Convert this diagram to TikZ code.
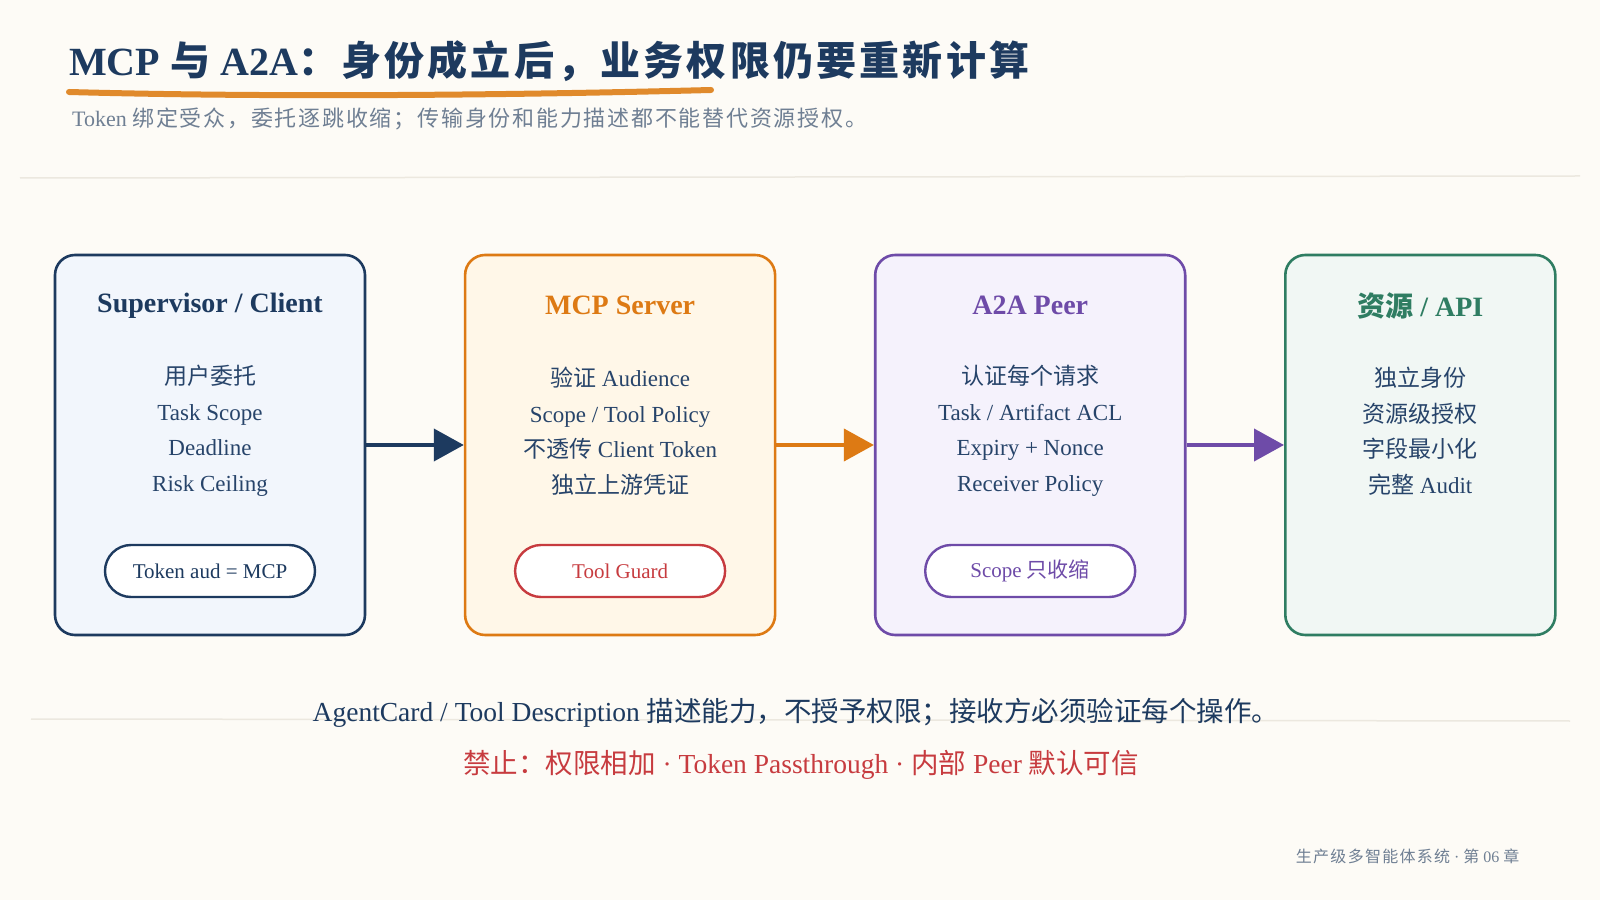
\documentclass[tikz,border=0pt]{standalone}
\usepackage{fontspec}
\setmainfont{Liberation Serif}
\newfontfamily\zhfont{Noto Sans CJK SC}
\newfontfamily\zhwidefont{Noto Sans CJK SC}[LetterSpace=8]
\newcommand{\zh}[1]{{\zhfont #1}}
\newcommand{\zhw}[1]{{\zhwidefont #1}}
\usetikzlibrary{positioning, arrows.meta}
\definecolor{paper}{HTML}{FDFBF6}
\definecolor{cNavy}{HTML}{1D3A5F}
\definecolor{cInk}{HTML}{27446A}
\definecolor{cAmber}{HTML}{DD7A14}
\definecolor{cMark}{HTML}{E08A2C}
\definecolor{cViolet}{HTML}{6E4BA8}
\definecolor{cGreen}{HTML}{2F7D62}
\definecolor{cRed}{HTML}{C73B3F}
\definecolor{cGrey}{HTML}{6F7F93}
\definecolor{cRule}{HTML}{ECE8DF}
\definecolor{fNavy}{HTML}{F2F6FC}
\definecolor{fAmber}{HTML}{FFF7E8}
\definecolor{fViolet}{HTML}{F5F2FC}
\definecolor{fGreen}{HTML}{F1F7F4}
\tikzset{
  node distance=97.5pt,
  panel/.style={draw, rounded corners=20pt, line width=2.6pt,
    minimum width=310pt, minimum height=380pt},
  heading/.style={font=\fontsize{28}{32}\selectfont\bfseries},
  items/.style={align=center, text=cInk, font=\fontsize{23}{35.5}\selectfont},
  pill/.style={draw, fill=white, line width=2.4pt, rounded corners=26pt,
    minimum width=210pt, minimum height=52pt, font=\fontsize{21}{24}\selectfont},
  flow/.style={line width=4pt, -{Triangle[length=30pt,width=32pt]}},
}
\begin{document}
\begin{tikzpicture}[x=1pt, y=1pt]
  \fill[paper] (0,0) rectangle (1600,900);
  \useasboundingbox (0,0) rectangle (1600,900);

  % title
  \node[anchor=base west, inner sep=0, text=cNavy, font=\fontsize{40}{44}\selectfont\bfseries]
    (title) at (69,824) {MCP \zhw{与} A2A\zhw{：身份成立后，业务权限仍要重新计算}};
  \draw[cMark, line width=6pt, line cap=round]
    (69,808) .. controls (250,803) and (480,804) .. (711,810);
  \node[anchor=base west, inner sep=0, text=cGrey, font=\fontsize{22}{26}\selectfont]
    (subtitle) at (72,773) {Token \zhw{绑定受众，委托逐跳收缩；传输身份和能力描述都不能替代资源授权。}};
  \draw[cRule, line width=1.5pt] (20,722) -- (1580,724);

  % panels
  \node[panel, draw=cNavy, fill=fNavy] (client) at (210,455) {};
  \node[panel, draw=cAmber, fill=fAmber, right=of client] (server) {};
  \node[panel, draw=cViolet, fill=fViolet, right=of server] (peer) {};
  \node[panel, draw=cGreen, fill=fGreen, minimum width=270pt, right=of peer] (api) {};

  % headings
  \node[heading, text=cNavy] (clienthead) at ([yshift=-52pt]client.north) {Supervisor / Client};
  \node[heading, text=cAmber] (serverhead) at ([yshift=-52pt]server.north) {MCP Server};
  \node[heading, text=cViolet] (peerhead) at ([yshift=-52pt]peer.north) {A2A Peer};
  \node[heading, text=cGreen] (apihead) at ([yshift=-52pt]api.north) {\zh{资源} / API};

  % items
  \node[items] (clientitems) at ([yshift=14pt]client.center)
    {\zh{用户委托}\\Task Scope\\Deadline\\Risk Ceiling};
  \node[items] (serveritems) at ([yshift=14pt]server.center)
    {\zh{验证} Audience\\Scope / Tool Policy\\\zh{不透传} Client Token\\\zh{独立上游凭证}};
  \node[items] (peeritems) at ([yshift=14pt]peer.center)
    {\zh{认证每个请求}\\Task / Artifact ACL\\Expiry + Nonce\\Receiver Policy};
  \node[items] (apiitems) at ([yshift=14pt]api.center)
    {\zh{独立身份}\\\zh{资源级授权}\\\zh{字段最小化}\\\zh{完整} Audit};

  % guards
  \node[pill, draw=cNavy, text=cNavy] (clientpill) at ([yshift=-126pt]client.center) {Token aud = MCP};
  \node[pill, draw=cRed, text=cRed] (serverpill) at ([yshift=-126pt]server.center) {Tool Guard};
  \node[pill, draw=cViolet, text=cViolet] (peerpill) at ([yshift=-126pt]peer.center) {Scope \zh{只收缩}};

  % arrows
  \draw[flow, cNavy] (client.east) -- (server.west);
  \draw[flow, cAmber] (server.east) -- (peer.west);
  \draw[flow, cViolet] (peer.east) -- (api.west);

  % notes
  \draw[cRule, line width=1.5pt] (31,181) -- (1570,179);
  \node[text=cNavy, font=\fontsize{27.5}{30}\selectfont] (note) at (796,187)
    {AgentCard / Tool Description \zh{描述能力，不授予权限；接收方必须验证每个操作。}};
  \node[text=cRed, font=\fontsize{27.5}{30}\selectfont] (ban) at (801,135)
    {\zh{禁止：权限相加} · Token Passthrough · \zh{内部} Peer \zh{默认可信}};
  \node[anchor=east, text=cGrey, font=\fontsize{16}{19}\selectfont] (footer) at (1523,44)
    {\zhw{生产级多智能体系统} · \zhw{第} 06 \zhw{章}};
\end{tikzpicture}
\end{document}
